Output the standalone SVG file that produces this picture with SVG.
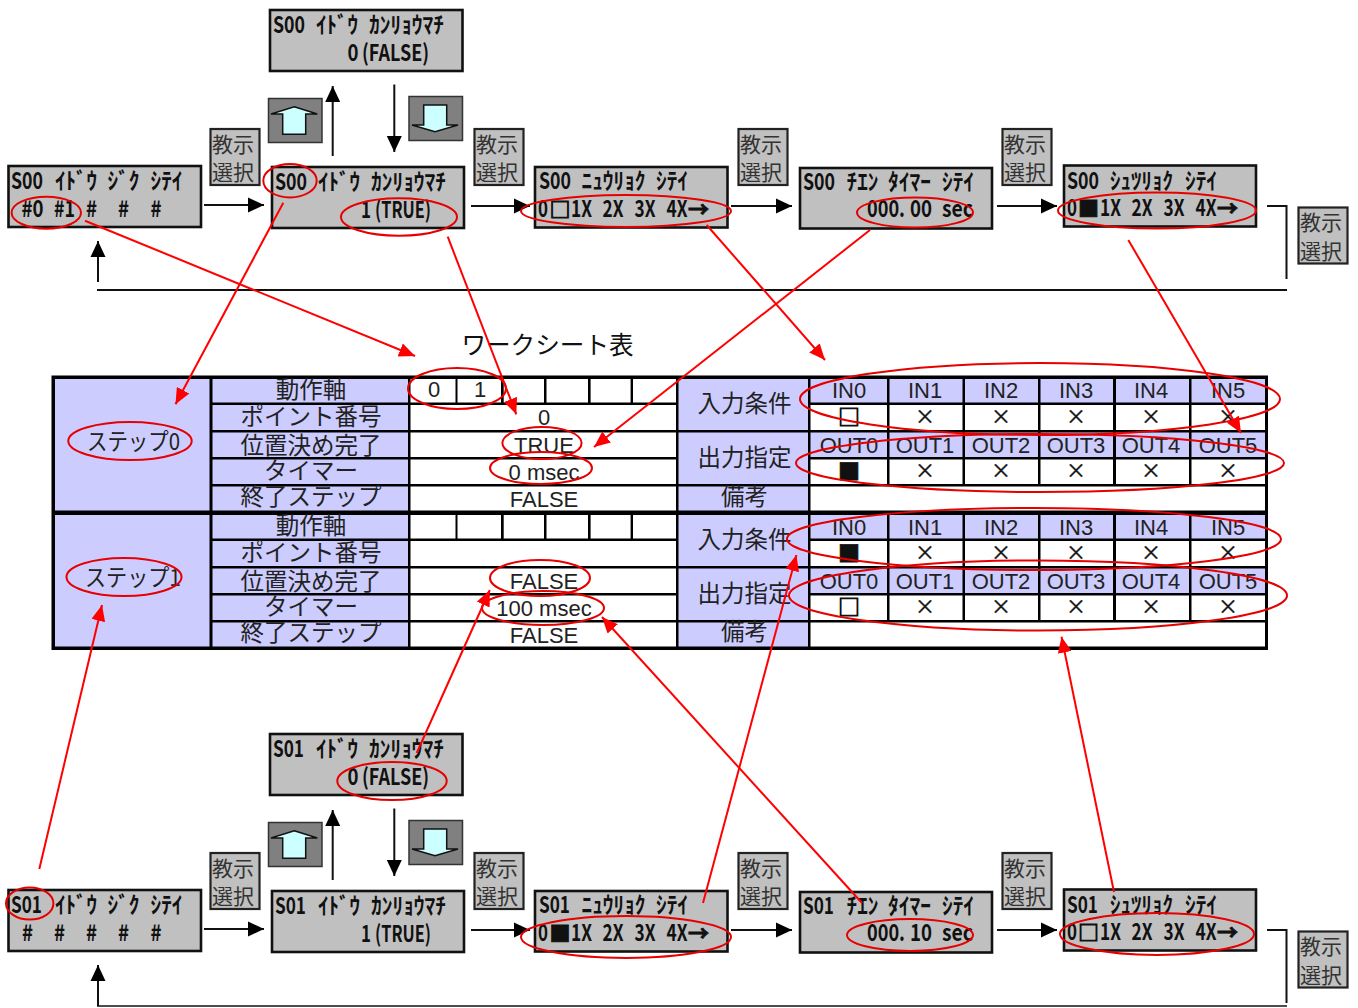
<svg xmlns="http://www.w3.org/2000/svg" width="1358" height="1008" viewBox="0 0 1358 1008">
<style>
text{fill:#111;font-family:"Noto Sans CJK JP","Liberation Sans",sans-serif}
.panel{fill:#c0c0c0;stroke:#111;stroke-width:2.6}
.sel{fill:#c0c0c0;stroke:#222;stroke-width:2.2}
.selt{font-size:21px;text-anchor:middle;fill:#333}
.btn{fill:#808080;stroke:#333;stroke-width:1.5}
.ar{fill:#ccffff;stroke:#111;stroke-width:1.5}
.l{font-size:23px;font-weight:700}
.b{font-size:21px;font-weight:700;stroke:#111;stroke-width:.9}
.p{fill:#ccccff}.w{fill:#fff}
.lab{font-size:23.5px;text-anchor:middle;fill:#222}
.v{font-size:22px;text-anchor:middle;font-family:"Liberation Sans",sans-serif;fill:#222}
.x{font-size:20px;text-anchor:middle;stroke:#111;stroke-width:.4}
.bx{font-size:22px;text-anchor:middle;stroke:#111;stroke-width:.9}
.k{stroke:#111;stroke-width:2;fill:none}
.ka{stroke:#111;stroke-width:2;fill:none;marker-end:url(#bk)}
.r{stroke:#f00;stroke-width:2;fill:none;marker-end:url(#rd)}
.e{stroke:#e60000;stroke-width:2;fill:none}
</style>
<defs>
<marker id="bk" markerUnits="userSpaceOnUse" markerWidth="16" markerHeight="16" refX="16" refY="8" orient="auto"><path d="M0,0.5 L16,8 L0,15.5Z" fill="#000"/></marker>
<marker id="rd" markerUnits="userSpaceOnUse" markerWidth="16" markerHeight="14" refX="16" refY="7" orient="auto"><path d="M0,0 L16,7 L0,14Z" fill="#f00"/></marker>
<g id="sel"><rect class="sel" width="49" height="56"/><text class="selt" x="22.5" y="22.5">教示</text><text class="selt" x="22.5" y="51">選択</text></g>
<g id="up"><rect class="btn" x="268.5" y="98.5" width="53.5" height="44"/><path class="ar" d="M294.3,106.7 L317.3,114 H305.7 V134.3 H282.7 V114 H271Z"/></g>
<g id="dn"><rect class="btn" x="409" y="96.5" width="53.5" height="44"/><path class="ar" d="M423.7,105 H446.7 V125 H458 L435,131.7 L412,125 H423.7Z"/></g>
<g id="block">
<rect class="p" x="55" y="379" width="154.5" height="131.5"/>
<rect class="p" x="212.5" y="379" width="195.5" height="23.5"/><rect class="p" x="212.5" y="405" width="195.5" height="25"/><rect class="p" x="212.5" y="432.5" width="195.5" height="24.5"/><rect class="p" x="212.5" y="459.5" width="195.5" height="24.5"/><rect class="p" x="212.5" y="486.5" width="195.5" height="24"/>
<rect class="w" x="410.5" y="379" width="45" height="23.5"/><rect class="w" x="457.5" y="379" width="43.5" height="23.5"/><rect class="w" x="503.7" y="379" width="40.3" height="23.5"/><rect class="w" x="546.5" y="379" width="41.5" height="23.5"/><rect class="w" x="590.6" y="379" width="40" height="23.5"/><rect class="w" x="633" y="379" width="43" height="23.5"/>
<rect class="w" x="410.5" y="405" width="265.5" height="25"/><rect class="w" x="410.5" y="432.5" width="265.5" height="24.5"/><rect class="w" x="410.5" y="459.5" width="265.5" height="24.5"/><rect class="w" x="410.5" y="486.5" width="265.5" height="24"/>
<rect class="p" x="678.5" y="379" width="129.5" height="51"/><rect class="p" x="678.5" y="432.5" width="129.5" height="51.5"/><rect class="p" x="678.5" y="486.5" width="129.5" height="24"/>
<g class="p"><rect x="810.5" y="379" width="76.5" height="23.5"/><rect x="889.5" y="379" width="73" height="23.5"/><rect x="965" y="379" width="73" height="23.5"/><rect x="1040.5" y="379" width="72.5" height="23.5"/><rect x="1116" y="379" width="73" height="23.5"/><rect x="1191.5" y="379" width="73.5" height="23.5"/></g>
<g class="w"><rect x="810.5" y="405" width="76.5" height="25"/><rect x="889.5" y="405" width="73" height="25"/><rect x="965" y="405" width="73" height="25"/><rect x="1040.5" y="405" width="72.5" height="25"/><rect x="1116" y="405" width="73" height="25"/><rect x="1191.5" y="405" width="73.5" height="25"/></g>
<g class="p"><rect x="810.5" y="432.5" width="76.5" height="24.5"/><rect x="889.5" y="432.5" width="73" height="24.5"/><rect x="965" y="432.5" width="73" height="24.5"/><rect x="1040.5" y="432.5" width="72.5" height="24.5"/><rect x="1116" y="432.5" width="73" height="24.5"/><rect x="1191.5" y="432.5" width="73.5" height="24.5"/></g>
<g class="w"><rect x="810.5" y="459.5" width="76.5" height="24.5"/><rect x="889.5" y="459.5" width="73" height="24.5"/><rect x="965" y="459.5" width="73" height="24.5"/><rect x="1040.5" y="459.5" width="72.5" height="24.5"/><rect x="1116" y="459.5" width="73" height="24.5"/><rect x="1191.5" y="459.5" width="73.5" height="24.5"/></g>
<rect class="w" x="810.5" y="486.5" width="454.5" height="24"/>
</g>
</defs>

<g id="worksheet-title"><text x="547.5" y="354" font-size="24.6" text-anchor="middle" fill="#222">ワークシート表</text></g>

<g id="table">
<rect x="51.5" y="375.5" width="1216.5" height="274.5" fill="#000"/>
<use href="#block"/><use href="#block" y="136"/>
<text class="lab" x="311" y="398">動作軸</text><text class="lab" x="311" y="425">ポイント番号</text><text class="lab" x="311" y="454">位置決め完了</text><text class="lab" x="311" y="479">タイマー</text><text class="lab" x="311" y="505">終了ステップ</text>
<text class="lab" x="311" y="534">動作軸</text><text class="lab" x="311" y="561">ポイント番号</text><text class="lab" x="311" y="590">位置決め完了</text><text class="lab" x="311" y="615">タイマー</text><text class="lab" x="311" y="641">終了ステップ</text>
<text class="lab" x="133.5" y="450" textLength="93" lengthAdjust="spacingAndGlyphs">ステップ0</text>
<text class="lab" x="133" y="586" textLength="96" lengthAdjust="spacingAndGlyphs">ステップ1</text>
<text class="v" x="434" y="397">0</text><text class="v" x="480" y="397">1</text>
<text class="v" x="544" y="425">0</text><text class="v" x="544" y="453">TRUE</text><text class="v" x="544" y="480">0 msec</text><text class="v" x="544" y="507">FALSE</text>
<text class="v" x="544" y="589">FALSE</text><text class="v" x="544" y="616">100 msec</text><text class="v" x="544" y="643">FALSE</text>
<text class="lab" x="744.5" y="412">入力条件</text><text class="lab" x="744.5" y="466">出力指定</text><text class="lab" x="744.5" y="505">備考</text>
<text class="lab" x="744.5" y="548">入力条件</text><text class="lab" x="744.5" y="602">出力指定</text><text class="lab" x="744.5" y="640">備考</text>
<text class="v" x="849" y="398">IN0</text><text class="v" x="925" y="398">IN1</text><text class="v" x="1001" y="398">IN2</text><text class="v" x="1076" y="398">IN3</text><text class="v" x="1151" y="398">IN4</text><text class="v" x="1228" y="398">IN5</text>
<text class="v" x="849" y="453">OUT0</text><text class="v" x="925" y="453">OUT1</text><text class="v" x="1001" y="453">OUT2</text><text class="v" x="1076" y="453">OUT3</text><text class="v" x="1151" y="453">OUT4</text><text class="v" x="1228" y="453">OUT5</text>
<text class="v" x="849" y="535">IN0</text><text class="v" x="925" y="535">IN1</text><text class="v" x="1001" y="535">IN2</text><text class="v" x="1076" y="535">IN3</text><text class="v" x="1151" y="535">IN4</text><text class="v" x="1228" y="535">IN5</text>
<text class="v" x="849" y="589">OUT0</text><text class="v" x="925" y="589">OUT1</text><text class="v" x="1001" y="589">OUT2</text><text class="v" x="1076" y="589">OUT3</text><text class="v" x="1151" y="589">OUT4</text><text class="v" x="1228" y="589">OUT5</text>
<text class="bx" x="849" y="425">□</text><text class="x" x="925" y="424">×</text><text class="x" x="1001" y="424">×</text><text class="x" x="1076" y="424">×</text><text class="x" x="1151" y="424">×</text><text class="x" x="1228" y="424">×</text>
<text class="bx" x="849" y="479">■</text><text class="x" x="925" y="478">×</text><text class="x" x="1001" y="478">×</text><text class="x" x="1076" y="478">×</text><text class="x" x="1151" y="478">×</text><text class="x" x="1228" y="478">×</text>
<text class="bx" x="849" y="561">■</text><text class="x" x="925" y="560">×</text><text class="x" x="1001" y="560">×</text><text class="x" x="1076" y="560">×</text><text class="x" x="1151" y="560">×</text><text class="x" x="1228" y="560">×</text>
<text class="bx" x="849" y="615">□</text><text class="x" x="925" y="614">×</text><text class="x" x="1001" y="614">×</text><text class="x" x="1076" y="614">×</text><text class="x" x="1151" y="614">×</text><text class="x" x="1228" y="614">×</text>
</g>

<g id="s00-axis"><rect class="panel" x="8.5" y="166" width="192.5" height="61"/>
<text class="l" x="11" y="189" textLength="32" lengthAdjust="spacingAndGlyphs">S00</text><text class="l" x="55" y="189" textLength="42" lengthAdjust="spacingAndGlyphs">ｲﾄﾞｳ</text><text class="l" x="107.5" y="189" textLength="32" lengthAdjust="spacingAndGlyphs">ｼﾞｸ</text><text class="l" x="150.5" y="189" textLength="32" lengthAdjust="spacingAndGlyphs">ｼﾃｲ</text>
<text class="l" x="21.5" y="217" textLength="22" lengthAdjust="spacingAndGlyphs">#0</text><text class="l" x="54" y="217" textLength="21" lengthAdjust="spacingAndGlyphs">#1</text><text class="l" x="86" y="217" textLength="11" lengthAdjust="spacingAndGlyphs">#</text><text class="l" x="118" y="217" textLength="11" lengthAdjust="spacingAndGlyphs">#</text><text class="l" x="150.5" y="217" textLength="11" lengthAdjust="spacingAndGlyphs">#</text></g>
<g id="s00-wait1"><rect class="panel" x="272" y="167" width="192" height="61"/>
<text class="l" x="275" y="190" textLength="32" lengthAdjust="spacingAndGlyphs">S00</text><text class="l" x="318" y="190" textLength="42" lengthAdjust="spacingAndGlyphs">ｲﾄﾞｳ</text><text class="l" x="371" y="190" textLength="75" lengthAdjust="spacingAndGlyphs">ｶﾝﾘｮｳﾏﾁ</text>
<text class="l" x="361" y="218" textLength="10" lengthAdjust="spacingAndGlyphs">1</text><text class="l" x="375" y="218" textLength="56" lengthAdjust="spacingAndGlyphs">(TRUE)</text></g>
<g id="s00-wait0"><rect class="panel" x="270" y="10" width="192.5" height="61"/>
<text class="l" x="273" y="33" textLength="32" lengthAdjust="spacingAndGlyphs">S00</text><text class="l" x="316" y="33" textLength="42" lengthAdjust="spacingAndGlyphs">ｲﾄﾞｳ</text><text class="l" x="369" y="33" textLength="75" lengthAdjust="spacingAndGlyphs">ｶﾝﾘｮｳﾏﾁ</text>
<text class="l" x="347.5" y="61" textLength="11" lengthAdjust="spacingAndGlyphs">0</text><text class="l" x="362" y="61" textLength="67" lengthAdjust="spacingAndGlyphs">(FALSE)</text></g>
<g id="s00-input"><rect class="panel" x="535" y="167" width="192.5" height="60.5"/>
<text class="l" x="539" y="189" textLength="32" lengthAdjust="spacingAndGlyphs">S00</text><text class="l" x="581.5" y="189" textLength="64" lengthAdjust="spacingAndGlyphs">ﾆｭｳﾘｮｸ</text><text class="l" x="656" y="189" textLength="32" lengthAdjust="spacingAndGlyphs">ｼﾃｲ</text>
<text class="l" x="538" y="217" textLength="10" lengthAdjust="spacingAndGlyphs">0</text><text class="b" x="549.5" y="216.5">□</text><text class="l" x="571" y="217" textLength="21" lengthAdjust="spacingAndGlyphs">1X</text><text class="l" x="602.5" y="217" textLength="21" lengthAdjust="spacingAndGlyphs">2X</text><text class="l" x="634.5" y="217" textLength="21" lengthAdjust="spacingAndGlyphs">3X</text><text class="l" x="666.5" y="217" textLength="21" lengthAdjust="spacingAndGlyphs">4X</text><text class="b" x="688" y="216.5">→</text></g>
<g id="s00-timer"><rect class="panel" x="800" y="168" width="192" height="60.5"/>
<text class="l" x="803" y="190" textLength="32" lengthAdjust="spacingAndGlyphs">S00</text><text class="l" x="846.5" y="190" textLength="32" lengthAdjust="spacingAndGlyphs">ﾁｴﾝ</text><text class="l" x="888" y="190" textLength="43" lengthAdjust="spacingAndGlyphs">ﾀｲﾏｰ</text><text class="l" x="942" y="190" textLength="32" lengthAdjust="spacingAndGlyphs">ｼﾃｲ</text>
<text class="l" x="867" y="217" textLength="38" lengthAdjust="spacingAndGlyphs">000.</text><text class="l" x="910" y="217" textLength="22" lengthAdjust="spacingAndGlyphs">00</text><text class="l" x="942" y="217" textLength="31" lengthAdjust="spacingAndGlyphs">sec</text></g>
<g id="s00-output"><rect class="panel" x="1064" y="165.5" width="192" height="61"/>
<text class="l" x="1067" y="189" textLength="32" lengthAdjust="spacingAndGlyphs">S00</text><text class="l" x="1110" y="189" textLength="63" lengthAdjust="spacingAndGlyphs">ｼｭﾂﾘｮｸ</text><text class="l" x="1185" y="189" textLength="32" lengthAdjust="spacingAndGlyphs">ｼﾃｲ</text>
<text class="l" x="1067" y="216" textLength="10" lengthAdjust="spacingAndGlyphs">0</text><text class="b" x="1078" y="215.5">■</text><text class="l" x="1100" y="216" textLength="21" lengthAdjust="spacingAndGlyphs">1X</text><text class="l" x="1131.5" y="216" textLength="21" lengthAdjust="spacingAndGlyphs">2X</text><text class="l" x="1163.5" y="216" textLength="21" lengthAdjust="spacingAndGlyphs">3X</text><text class="l" x="1195.5" y="216" textLength="21" lengthAdjust="spacingAndGlyphs">4X</text><text class="b" x="1217" y="215.5">→</text></g>
<g id="s00-controls"><use href="#sel" x="210.5" y="129"/><use href="#sel" x="474.5" y="129"/><use href="#sel" x="738.5" y="129"/><use href="#sel" x="1002.5" y="129"/><use href="#sel" x="1298.5" y="207.5"/><use href="#up"/><use href="#dn"/></g>

<g id="s01-axis" transform="translate(0,724)"><rect class="panel" x="8.5" y="166" width="192.5" height="61"/>
<text class="l" x="11" y="189" textLength="31" lengthAdjust="spacingAndGlyphs">S01</text><text class="l" x="55" y="189" textLength="42" lengthAdjust="spacingAndGlyphs">ｲﾄﾞｳ</text><text class="l" x="107.5" y="189" textLength="32" lengthAdjust="spacingAndGlyphs">ｼﾞｸ</text><text class="l" x="150.5" y="189" textLength="32" lengthAdjust="spacingAndGlyphs">ｼﾃｲ</text>
<text class="l" x="22" y="217" textLength="11" lengthAdjust="spacingAndGlyphs">#</text><text class="l" x="54" y="217" textLength="11" lengthAdjust="spacingAndGlyphs">#</text><text class="l" x="86" y="217" textLength="11" lengthAdjust="spacingAndGlyphs">#</text><text class="l" x="118" y="217" textLength="11" lengthAdjust="spacingAndGlyphs">#</text><text class="l" x="150.5" y="217" textLength="11" lengthAdjust="spacingAndGlyphs">#</text></g>
<g id="s01-wait1" transform="translate(0,724)"><rect class="panel" x="272" y="167" width="192" height="61"/>
<text class="l" x="275" y="190" textLength="31" lengthAdjust="spacingAndGlyphs">S01</text><text class="l" x="318" y="190" textLength="42" lengthAdjust="spacingAndGlyphs">ｲﾄﾞｳ</text><text class="l" x="371" y="190" textLength="75" lengthAdjust="spacingAndGlyphs">ｶﾝﾘｮｳﾏﾁ</text>
<text class="l" x="361" y="218" textLength="10" lengthAdjust="spacingAndGlyphs">1</text><text class="l" x="375" y="218" textLength="56" lengthAdjust="spacingAndGlyphs">(TRUE)</text></g>
<g id="s01-wait0" transform="translate(0,724)"><rect class="panel" x="270" y="10" width="192.5" height="61"/>
<text class="l" x="273" y="33" textLength="31" lengthAdjust="spacingAndGlyphs">S01</text><text class="l" x="316" y="33" textLength="42" lengthAdjust="spacingAndGlyphs">ｲﾄﾞｳ</text><text class="l" x="369" y="33" textLength="75" lengthAdjust="spacingAndGlyphs">ｶﾝﾘｮｳﾏﾁ</text>
<text class="l" x="347.5" y="61" textLength="11" lengthAdjust="spacingAndGlyphs">0</text><text class="l" x="362" y="61" textLength="67" lengthAdjust="spacingAndGlyphs">(FALSE)</text></g>
<g id="s01-input" transform="translate(0,724)"><rect class="panel" x="535" y="167" width="192.5" height="60.5"/>
<text class="l" x="539" y="189" textLength="31" lengthAdjust="spacingAndGlyphs">S01</text><text class="l" x="581.5" y="189" textLength="64" lengthAdjust="spacingAndGlyphs">ﾆｭｳﾘｮｸ</text><text class="l" x="656" y="189" textLength="32" lengthAdjust="spacingAndGlyphs">ｼﾃｲ</text>
<text class="l" x="538" y="217" textLength="10" lengthAdjust="spacingAndGlyphs">0</text><text class="b" x="549.5" y="216.5">■</text><text class="l" x="571" y="217" textLength="21" lengthAdjust="spacingAndGlyphs">1X</text><text class="l" x="602.5" y="217" textLength="21" lengthAdjust="spacingAndGlyphs">2X</text><text class="l" x="634.5" y="217" textLength="21" lengthAdjust="spacingAndGlyphs">3X</text><text class="l" x="666.5" y="217" textLength="21" lengthAdjust="spacingAndGlyphs">4X</text><text class="b" x="688" y="216.5">→</text></g>
<g id="s01-timer" transform="translate(0,724)"><rect class="panel" x="800" y="168" width="192" height="60.5"/>
<text class="l" x="803" y="190" textLength="31" lengthAdjust="spacingAndGlyphs">S01</text><text class="l" x="846.5" y="190" textLength="32" lengthAdjust="spacingAndGlyphs">ﾁｴﾝ</text><text class="l" x="888" y="190" textLength="43" lengthAdjust="spacingAndGlyphs">ﾀｲﾏｰ</text><text class="l" x="942" y="190" textLength="32" lengthAdjust="spacingAndGlyphs">ｼﾃｲ</text>
<text class="l" x="867" y="217" textLength="38" lengthAdjust="spacingAndGlyphs">000.</text><text class="l" x="910" y="217" textLength="22" lengthAdjust="spacingAndGlyphs">10</text><text class="l" x="942" y="217" textLength="31" lengthAdjust="spacingAndGlyphs">sec</text></g>
<g id="s01-output" transform="translate(0,724)"><rect class="panel" x="1064" y="165.5" width="192" height="61"/>
<text class="l" x="1067" y="189" textLength="31" lengthAdjust="spacingAndGlyphs">S01</text><text class="l" x="1110" y="189" textLength="63" lengthAdjust="spacingAndGlyphs">ｼｭﾂﾘｮｸ</text><text class="l" x="1185" y="189" textLength="32" lengthAdjust="spacingAndGlyphs">ｼﾃｲ</text>
<text class="l" x="1067" y="216" textLength="10" lengthAdjust="spacingAndGlyphs">0</text><text class="b" x="1078" y="215.5">□</text><text class="l" x="1100" y="216" textLength="21" lengthAdjust="spacingAndGlyphs">1X</text><text class="l" x="1131.5" y="216" textLength="21" lengthAdjust="spacingAndGlyphs">2X</text><text class="l" x="1163.5" y="216" textLength="21" lengthAdjust="spacingAndGlyphs">3X</text><text class="l" x="1195.5" y="216" textLength="21" lengthAdjust="spacingAndGlyphs">4X</text><text class="b" x="1217" y="215.5">→</text></g>
<g id="s01-controls" transform="translate(0,724)"><use href="#sel" x="210.5" y="129"/><use href="#sel" x="474.5" y="129"/><use href="#sel" x="738.5" y="129"/><use href="#sel" x="1002.5" y="129"/><use href="#sel" x="1298.5" y="207.5"/><use href="#up"/><use href="#dn"/></g>

<g id="connectors">
<g id="top-flow">
<line class="ka" x1="204" y1="205" x2="264" y2="205"/><line class="ka" x1="332.7" y1="156" x2="332.7" y2="86"/><line class="ka" x1="394.3" y1="84.5" x2="394.3" y2="152"/><line class="ka" x1="471" y1="206" x2="530" y2="206"/><line class="ka" x1="731" y1="206" x2="792" y2="206"/><line class="ka" x1="997" y1="206" x2="1057" y2="206"/><line class="ka" x1="98" y1="282" x2="98" y2="241"/>
<path class="k" d="M1267,206 H1286.5 V279"/><line class="k" x1="97" y1="290" x2="1287" y2="290"/></g>
<g id="bottom-flow" transform="translate(0,724)">
<line class="ka" x1="204" y1="205" x2="264" y2="205"/><line class="ka" x1="332.7" y1="156" x2="332.7" y2="86"/><line class="ka" x1="394.3" y1="84.5" x2="394.3" y2="152"/><line class="ka" x1="471" y1="206" x2="530" y2="206"/><line class="ka" x1="731" y1="206" x2="792" y2="206"/><line class="ka" x1="997" y1="206" x2="1057" y2="206"/><line class="ka" x1="98" y1="282" x2="98" y2="241"/>
<path class="k" d="M1267,206 H1286.5 V279"/><line class="k" x1="97" y1="282" x2="1287" y2="282" stroke-opacity=".75"/></g>
</g>

<g id="annotations">
<ellipse class="e" cx="46.3" cy="212.7" rx="34.7" ry="16"/><ellipse class="e" cx="290" cy="180.7" rx="26.7" ry="16.7"/><ellipse class="e" cx="399" cy="217" rx="58" ry="18.7"/><ellipse class="e" cx="626" cy="211" rx="105" ry="16"/><ellipse class="e" cx="915" cy="212.5" rx="58" ry="15"/><ellipse class="e" cx="1157" cy="210.5" rx="99" ry="18"/>
<ellipse class="e" cx="457" cy="388.5" rx="49" ry="20.5"/><ellipse class="e" cx="130" cy="441" rx="61.7" ry="19"/><ellipse class="e" cx="542" cy="443" rx="39.6" ry="16"/><ellipse class="e" cx="541" cy="468" rx="51" ry="16"/><ellipse class="e" cx="124" cy="577" rx="57.5" ry="19"/><ellipse class="e" cx="540" cy="578" rx="50" ry="18"/><ellipse class="e" cx="543" cy="608" rx="61" ry="17"/>
<ellipse class="e" cx="1040" cy="399" rx="240" ry="36"/><ellipse class="e" cx="1040" cy="463" rx="244" ry="29"/><ellipse class="e" cx="1034" cy="539" rx="247" ry="31"/><ellipse class="e" cx="1038" cy="595.5" rx="249" ry="35"/>
<ellipse class="e" cx="29.7" cy="903.5" rx="23.7" ry="16"/><ellipse class="e" cx="392" cy="781" rx="54.7" ry="19"/><ellipse class="e" cx="626" cy="937" rx="105" ry="21"/><ellipse class="e" cx="910" cy="935" rx="63" ry="16"/><ellipse class="e" cx="1157" cy="934" rx="97" ry="21"/>
<line class="r" x1="85" y1="220.7" x2="415" y2="356"/><line class="r" x1="283.3" y1="202.7" x2="175.5" y2="404.3"/><line class="r" x1="447.7" y1="236.7" x2="516.3" y2="414.3"/><line class="r" x1="706.7" y1="225" x2="825" y2="360"/><line class="r" x1="870" y1="230" x2="594" y2="447"/><line class="r" x1="1128.3" y1="240" x2="1241" y2="433"/>
<line class="r" x1="39.3" y1="869" x2="102" y2="605"/><line class="r" x1="416.7" y1="753" x2="489.8" y2="590"/><line class="r" x1="703" y1="903" x2="796.4" y2="555"/><line class="r" x1="862" y1="903" x2="602" y2="617"/><line class="r" x1="1114" y1="892" x2="1061.5" y2="636.7"/>
</g>
</svg>
